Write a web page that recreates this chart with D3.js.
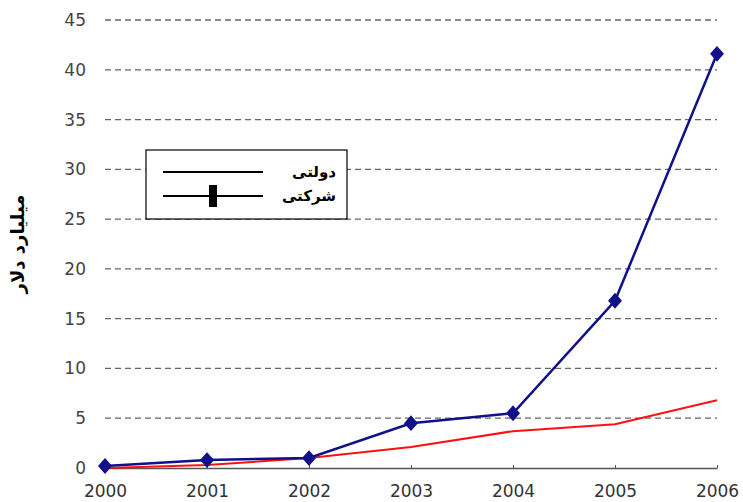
<!DOCTYPE html>
<html>
<head>
<meta charset="utf-8">
<script src="https://cdn.jsdelivr.net/npm/d3@7"></script>
<style>
body { margin:0; background:#fff; }
</style>
</head>
<body>
<script>
// data
var years = [2000, 2001, 2002, 2003, 2004, 2005, 2006];
var sherkati = [0.2, 0.8, 1.0, 4.5, 5.5, 16.8, 41.6]; // blue, markers
var dolati = [0, 0.3, 1.0, 2.1, 3.7, 4.4, 6.8];       // red
var yTicks = [0, 5, 10, 15, 20, 25, 30, 35, 40, 45];
var yTitle = "میلیارد دلار";
var legendNames = ["دولتی", "شرکتی"];

var width = 743, height = 502;
var margin = {top: 20, right: 26, bottom: 34, left: 105};

var svg = d3.select('body')
  .append('svg')
  .attr('width', width)
  .attr('height', height);

var x = d3.scalePoint()
  .domain(years)
  .range([margin.left, width - margin.right]);

var y = d3.scaleLinear()
  .domain([0, 45])
  .range([height - margin.bottom, margin.top]);

var font = "Verdana, 'DejaVu Sans', sans-serif";

// dashed grid lines
svg.append('g')
  .selectAll('line')
  .data(yTicks.filter(function(d){ return d > 0; }))
  .enter()
  .append('line')
  .attr('x1', margin.left)
  .attr('x2', width - margin.right)
  .attr('y1', function(d){ return y(d); })
  .attr('y2', function(d){ return y(d); })
  .attr('stroke', '#666')
  .attr('stroke-width', 1.3)
  .attr('stroke-dasharray', '6,4');

// y axis labels
var yAxis = svg.append('g')
  .attr('transform', 'translate(' + (margin.left - 19) + ',0)')
  .call(d3.axisLeft(y).tickValues(yTicks).tickSize(0).tickPadding(0));
yAxis.select('.domain').remove();
yAxis.selectAll('text')
  .attr('font-family', font)
  .attr('font-size', 17)
  .attr('fill', '#444');

// x axis
var xAxis = svg.append('g')
  .attr('transform', 'translate(0,' + y(0) + ')')
  .call(d3.axisBottom(x).tickSize(-3).tickPadding(17).tickSizeOuter(0));
xAxis.select('.domain').attr('stroke', '#555').attr('stroke-width', 1.5);
xAxis.selectAll('.tick line').attr('stroke', '#555');
xAxis.selectAll('text')
  .attr('font-family', font)
  .attr('font-size', 17)
  .attr('fill', '#333');

// y title
svg.append('text')
  .attr('transform', 'translate(24,' + (y(22.5)) + ') rotate(-90)')
  .attr('text-anchor', 'middle')
  .attr('font-family', "'DejaVu Sans', sans-serif")
  .attr('font-weight', 'bold')
  .attr('font-size', 18)
  .attr('direction', 'rtl')
  .text(yTitle);

var line = d3.line()
  .x(function(d, i){ return x(years[i]); })
  .y(function(d){ return y(d); });

svg.append('path')
  .datum(dolati)
  .attr('d', line)
  .attr('fill', 'none')
  .attr('stroke', '#ff1010')
  .attr('stroke-width', 2);

svg.append('path')
  .datum(sherkati)
  .attr('d', line)
  .attr('fill', 'none')
  .attr('stroke', '#10108a')
  .attr('stroke-width', 2.5);

svg.append('g')
  .selectAll('path')
  .data(sherkati)
  .enter()
  .append('path')
  .attr('transform', function(d, i){
    return 'translate(' + x(years[i]) + ',' + y(d) + ') scale(1.3,0.85)';
  })
  .attr('d', d3.symbol().type(d3.symbolDiamond).size(100))
  .attr('fill', '#10108a');

// legend
var lg = svg.append('g').attr('transform', 'translate(146,150)');
lg.append('rect')
  .attr('width', 201)
  .attr('height', 69)
  .attr('fill', '#fff')
  .attr('stroke', '#000')
  .attr('stroke-width', 1.2);
legendNames.forEach(function(name, i){
  var yy = 22 + i * 24;
  lg.append('line')
    .attr('x1', 17).attr('x2', 117)
    .attr('y1', yy).attr('y2', yy)
    .attr('stroke', '#000').attr('stroke-width', 2);
  if (i == 1) {
    lg.append('rect')
      .attr('x', 63).attr('y', yy - 11)
      .attr('width', 8).attr('height', 22)
      .attr('fill', '#000');
  }
  lg.append('text')
    .attr('x', 190).attr('y', yy + 5)
    .attr('text-anchor', 'start')
    .attr('direction', 'rtl')
    .attr('font-family', "'DejaVu Sans', sans-serif")
    .attr('font-size', 15)
    .attr('font-weight', 'bold')
    .text(name);
});
</script>
</body>
</html>
